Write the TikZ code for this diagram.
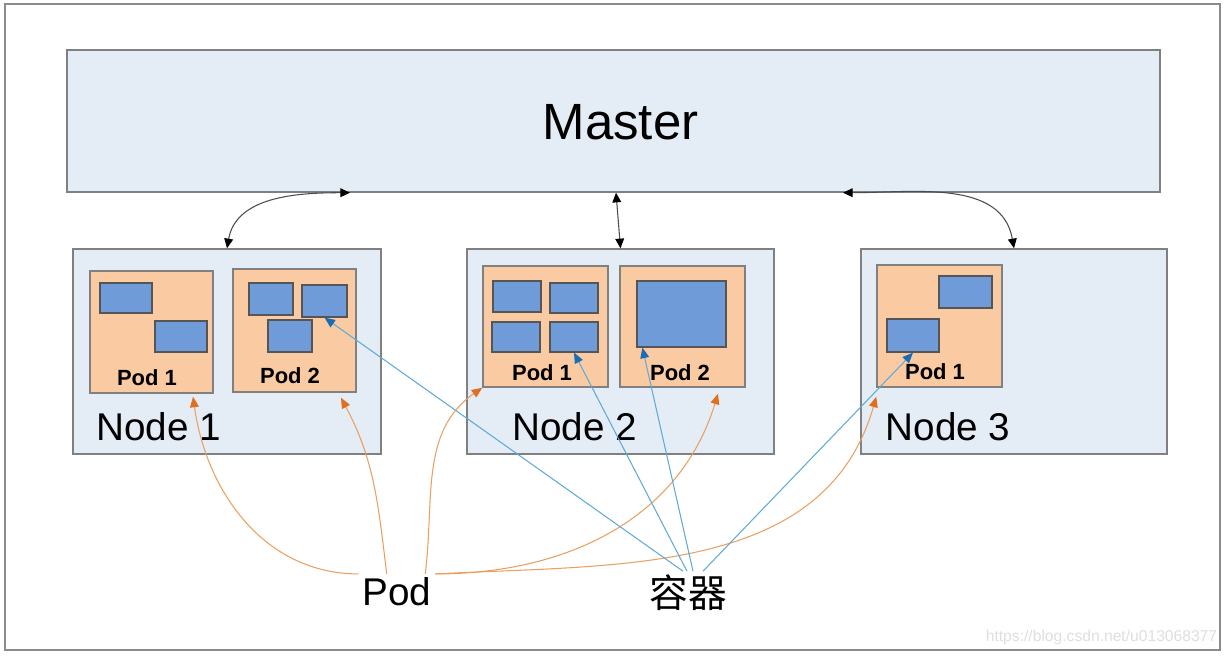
\documentclass[tikz,border=0pt]{standalone}
\usepackage{fontspec}
\setmainfont{Liberation Sans}
\newfontfamily\cjkfont{Noto Sans CJK SC}
\usetikzlibrary{arrows.meta}

\definecolor{boxblue}{RGB}{228,236,246}
\definecolor{boxedge}{RGB}{128,128,128}
\definecolor{podfill}{RGB}{250,203,163}
\definecolor{ctrfill}{RGB}{111,156,216}
\definecolor{ctredge}{RGB}{85,85,85}
\definecolor{podline}{RGB}{234,160,96}
\definecolor{podtip}{RGB}{224,112,32}
\definecolor{ctrline}{RGB}{96,170,216}
\definecolor{ctrtip}{RGB}{28,108,180}

\tikzset{
	hostbox/.style={draw=boxedge, fill=boxblue, line width=0.8pt, inner sep=0pt},
	podbox/.style={draw=boxedge, fill=podfill, line width=0.8pt, inner sep=0pt},
	ctrbox/.style={draw=ctredge, fill=ctrfill, line width=0.7pt, inner sep=0pt},
	hostlabel/.style={inner sep=2pt, font=\fontsize{22}{26}\selectfont},
	podlabel/.style={inner sep=1pt, font=\bfseries\fontsize{12.5}{14}\selectfont},
	link/.style={{Triangle[length=5.5pt,width=5pt,color=black]}-{Triangle[length=5.5pt,width=5pt,color=black]}, draw=black!70, line width=0.6pt},
	podarrow/.style={-{Triangle[length=6pt,width=5pt,color=podtip]}, draw=podline, line width=0.6pt},
	ctrarrow/.style={-{Triangle[length=6pt,width=5pt,color=ctrtip]}, draw=ctrline, line width=0.6pt}
}

\begin{document}
\begin{tikzpicture}
			%%%%% START %%%%%
			
			\useasboundingbox (0, 0) rectangle (24.56, 13.12);
			\draw[line width=0.9pt, draw=black!45] (0.10, 0.12) rectangle (24.40, 13.04);
			
			\node[hostbox, minimum width=21.86cm, minimum height=2.84cm] (master) at (12.27, 10.70) {};
			\node[inner sep=0pt, font=\fontsize{29}{33}\selectfont] (masterlbl) at (12.41, 10.68) {Master};
			
			\node[hostbox, minimum width=6.16cm, minimum height=4.10cm] (n1) at (4.54, 6.09) {};
			\node[hostbox, minimum width=6.14cm, minimum height=4.10cm] (n2) at (12.41, 6.09) {};
			\node[hostbox, minimum width=6.12cm, minimum height=4.10cm] (n3) at (20.28, 6.09) {};
			
			\node[hostlabel] (n1lbl) at (3.17, 4.58) {Node 1};
			\node[hostlabel] (n2lbl) at (11.49, 4.58) {Node 2};
			\node[hostlabel] (n3lbl) at (18.96, 4.58) {Node 3};
			
			\node[podbox, minimum width=2.46cm, minimum height=2.44cm] (n1p1) at (3.03, 6.48) {};
			\node[podbox, minimum width=2.46cm, minimum height=2.46cm] (n1p2) at (5.89, 6.51) {};
			\node[podbox, minimum width=2.50cm, minimum height=2.42cm] (n2p1) at (10.91, 6.59) {};
			\node[podbox, minimum width=2.50cm, minimum height=2.42cm] (n2p2) at (13.65, 6.59) {};
			\node[podbox, minimum width=2.50cm, minimum height=2.44cm] (n3p1) at (18.79, 6.60) {};
			
			\node[podlabel] (n1p1lbl) at (2.94, 5.56) {Pod 1};
			\node[podlabel] (n1p2lbl) at (5.80, 5.60) {Pod 2};
			\node[podlabel] (n2p1lbl) at (10.84, 5.66) {Pod 1};
			\node[podlabel] (n2p2lbl) at (13.60, 5.66) {Pod 2};
			\node[podlabel] (n3p1lbl) at (18.70, 5.68) {Pod 1};
			
			\node[ctrbox, minimum width=1.04cm, minimum height=0.60cm] (n1p1c1) at (2.52, 7.16) {};
			\node[ctrbox, minimum width=1.04cm, minimum height=0.62cm] (n1p1c2) at (3.62, 6.39) {};
			
			\node[ctrbox, minimum width=0.88cm, minimum height=0.64cm] (n1p2c1) at (5.42, 7.14) {};
			\node[ctrbox, minimum width=0.90cm, minimum height=0.64cm] (n1p2c2) at (6.49, 7.10) {};
			\node[ctrbox, minimum width=0.88cm, minimum height=0.64cm] (n1p2c3) at (5.80, 6.40) {};
			
			\node[ctrbox, minimum width=0.96cm, minimum height=0.62cm] (n2p1c1) at (10.34, 7.19) {};
			\node[ctrbox, minimum width=0.96cm, minimum height=0.60cm] (n2p1c2) at (11.48, 7.16) {};
			\node[ctrbox, minimum width=0.96cm, minimum height=0.60cm] (n2p1c3) at (10.32, 6.38) {};
			\node[ctrbox, minimum width=0.96cm, minimum height=0.60cm] (n2p1c4) at (11.48, 6.38) {};
			
			\node[ctrbox, minimum width=1.78cm, minimum height=1.32cm] (n2p2c1) at (13.63, 6.84) {};
			
			\node[ctrbox, minimum width=1.06cm, minimum height=0.64cm] (n3p1c1) at (19.31, 7.28) {};
			\node[ctrbox, minimum width=1.04cm, minimum height=0.66cm] (n3p1c2) at (18.26, 6.41) {};
			
			\node[hostlabel] (pod) at (7.94, 1.28) {Pod};
			\node[hostlabel, font=\cjkfont\fontsize{22}{26}\selectfont] (rq) at (13.76, 1.26) {容器};
			
			\node[inner sep=0pt, text=black!13, font=\fontsize{8.9}{10}\selectfont] (mark) at (22.03, 0.38) {https://blog.csdn.net/u013068377};
			
			% master <-> nodes
			\draw[link] (n1.north) to[out=80, in=180] ([xshift=-5.27cm]master.south);
			\draw[link] ([xshift=0.05cm]master.south) -- (n2.north);
			\draw[link] ([xshift=4.59cm]master.south) to[out=0, in=100] (n3.north);
			
			% Pod
			\draw[podarrow] (pod.north west) to[out=180, in=-82] ([xshift=0.83cm, yshift=-0.06cm]n1p1.south);
			\draw[podarrow] ([xshift=0.56cm]pod.north west) to[out=97, in=-62] ([xshift=0.93cm, yshift=-0.1cm]n1p2.south);
			\draw[podarrow] ([xshift=-0.2cm]pod.north east) to[out=83, in=-145] (n2p1.south west);
			\draw[podarrow] (pod.north east) to[out=0, in=-107] ([xshift=0.71cm, yshift=-0.12cm]n2p2.south);
			\draw[podarrow] (pod.north east) to[out=3, in=-106] ([yshift=-0.18cm]n3p1.south west);
			
			% containers
			\draw[ctrarrow] ([xshift=-0.1cm]rq.north) -- (n1p2c2.south);
			\draw[ctrarrow] ([xshift=-0.02cm]rq.north) -- (n2p1c4.south);
			\draw[ctrarrow] ([xshift=0.1cm]rq.north) -- ([xshift=0.12cm]n2p2c1.south west);
			\draw[ctrarrow] ([xshift=0.3cm]rq.north) -- (n3p1c2.south);
			
			%%%%% END %%%%%
\end{tikzpicture}
\end{document}
